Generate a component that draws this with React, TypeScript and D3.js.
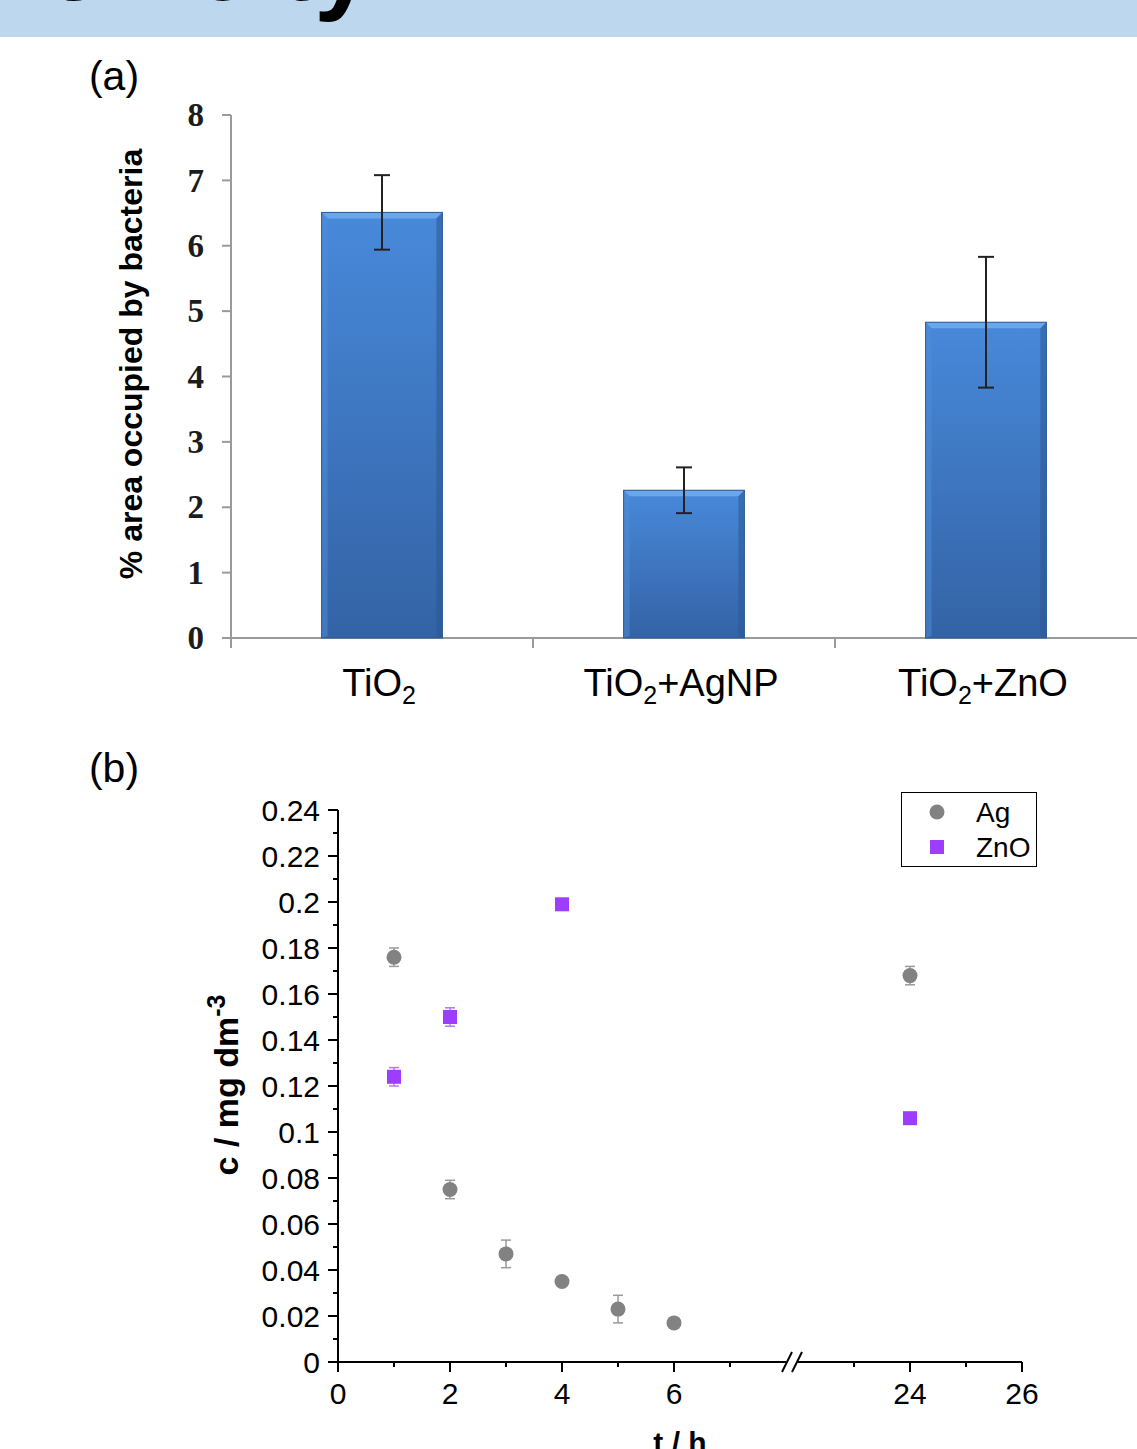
import React, { useEffect, useRef } from 'react';
import * as d3 from 'd3';

// panel (a): bar chart
const categories = ['TiO2', 'TiO2+AgNP', 'TiO2+ZnO'];
const areaValues = [6.51, 2.26, 4.83];
const areaErrors = [0.57, 0.35, 1.0];
const areaTicks = [0, 1, 2, 3, 4, 5, 6, 7, 8];

// panel (b): concentration vs time
const agTimes = [1, 2, 3, 4, 5, 6, 24];
const agValues = [0.176, 0.075, 0.047, 0.035, 0.023, 0.017, 0.168];
const agErrors = [0.004, 0.004, 0.006, 0.001, 0.006, 0.001, 0.004];
const znoTimes = [1, 2, 4, 24];
const znoValues = [0.124, 0.15, 0.199, 0.106];
const znoErrors = [0.004, 0.004, 0.001, 0.001];
const concTicks = [0, 0.02, 0.04, 0.06, 0.08, 0.1, 0.12, 0.14, 0.16, 0.18, 0.2, 0.22, 0.24];
const timeTicksLeft = [0, 2, 4, 6];
const timeTicksRight = [24, 26];
const minorLeft = [1, 3, 5, 7];
const minorRight = [23, 25];

const SANS = "'Liberation Sans', Arial, sans-serif";
const SERIF = "'Liberation Serif', 'Times New Roman', serif";

const App = () => {
  const svgRef = useRef<SVGSVGElement>(null);

  useEffect(() => {
    document.body.style.margin = '0';
    const svg = d3.select(svgRef.current);
    svg.selectAll('*').remove();

    // banner (title cut off at the top edge)
    svg.append('rect').attr('x', 0).attr('y', 0).attr('width', 1137).attr('height', 37).attr('fill', '#bdd7ee');
    svg.append('text').attr('x', 372).attr('y', 0).attr('text-anchor', 'end')
      .attr('font-family', SANS).attr('font-weight', 'bold').attr('font-size', 104)
      .attr('fill', '#000').text('Toxicity');

    const defs = svg.append('defs');
    const grad = defs.append('linearGradient').attr('id', 'barGrad').attr('x1', 0).attr('y1', 0).attr('x2', 0).attr('y2', 1);
    grad.append('stop').attr('offset', '0%').attr('stop-color', '#4889da');
    grad.append('stop').attr('offset', '100%').attr('stop-color', '#3363a5');

    // ---------- panel (a) ----------
    svg.append('text').attr('x', 114).attr('y', 90).attr('text-anchor', 'middle')
      .attr('font-family', SANS).attr('font-size', 41).text('(a)');

    const ya = d3.scaleLinear().domain([0, 8]).range([638, 115]);
    const xa = d3.scaleBand().domain(categories).range([231, 1137]).paddingInner(0).paddingOuter(0);
    const ga = svg.append('g');

    ga.append('line').attr('x1', 231).attr('x2', 231).attr('y1', ya(8)).attr('y2', 648)
      .attr('stroke', '#9a9a9a').attr('stroke-width', 2);
    ga.append('line').attr('x1', 231).attr('x2', 1137).attr('y1', ya(0)).attr('y2', ya(0))
      .attr('stroke', '#9a9a9a').attr('stroke-width', 2);
    ga.selectAll('.ytick').data(areaTicks).join('line').attr('class', 'ytick')
      .attr('x1', 222).attr('x2', 231).attr('y1', d => ya(d)).attr('y2', d => ya(d))
      .attr('stroke', '#9a9a9a').attr('stroke-width', 2);
    ga.selectAll('.ylab').data(areaTicks).join('text').attr('class', 'ylab')
      .attr('x', 204).attr('y', d => ya(d)).attr('dy', '0.34em').attr('text-anchor', 'end')
      .attr('font-family', SERIF).attr('font-weight', 'bold').attr('font-size', 33).attr('fill', '#1c1c1c')
      .text(d => d);
    const bounds = categories.map(c => xa(c)! + xa.bandwidth()).slice(0, -1);
    ga.selectAll('.xtick').data(bounds).join('line').attr('class', 'xtick')
      .attr('x1', d => d).attr('x2', d => d).attr('y1', ya(0)).attr('y2', ya(0) + 10)
      .attr('stroke', '#9a9a9a').attr('stroke-width', 2);

    ga.append('text').attr('transform', `translate(142,${(148 + 580) / 2}) rotate(-90)`)
      .attr('text-anchor', 'middle').attr('font-family', SANS).attr('font-weight', 'bold')
      .attr('font-size', 32).text('% area occupied by bacteria');

    const bw = xa.bandwidth() * 0.4;
    categories.forEach((c, i) => {
      const cx = xa(c)! + xa.bandwidth() / 2;
      const x0 = cx - bw / 2;
      const x1 = cx + bw / 2;
      const top = ya(areaValues[i]);
      const bot = ya(0);
      const g = ga.append('g');
      g.append('rect').attr('x', x0).attr('y', top).attr('width', bw).attr('height', bot - top)
        .attr('fill', 'url(#barGrad)');
      const b = 6;
      g.append('path').attr('d', `M${x0},${top}L${x1},${top}L${x1 - b},${top + b}L${x0 + b},${top + b}Z`)
        .attr('fill', '#6aa6ec');
      g.append('path').attr('d', `M${x1},${top}L${x1},${bot}L${x1 - b},${bot - 2}L${x1 - b},${top + b}Z`)
        .attr('fill', '#2c5893').attr('opacity', 0.55);
      g.append('path').attr('d', `M${x0},${top}L${x0},${bot}L${x0 + b},${bot - 2}L${x0 + b},${top + b}Z`)
        .attr('fill', '#4f8ed8').attr('opacity', 0.5);
      g.append('rect').attr('x', x0).attr('y', top).attr('width', bw).attr('height', bot - top)
        .attr('fill', 'none').attr('stroke', '#2a5a96').attr('stroke-width', 1);

      const eTop = ya(areaValues[i] + areaErrors[i]);
      const eBot = ya(areaValues[i] - areaErrors[i]);
      g.append('line').attr('x1', cx).attr('x2', cx).attr('y1', eTop).attr('y2', eBot)
        .attr('stroke', '#222').attr('stroke-width', 2);
      [eTop, eBot].forEach(yy => g.append('line').attr('x1', cx - 8).attr('x2', cx + 8)
        .attr('y1', yy).attr('y2', yy).attr('stroke', '#222').attr('stroke-width', 2));

      const rest = c.replace('TiO2', '');
      const t = ga.append('text').attr('x', cx - 3).attr('y', 696).attr('text-anchor', 'middle')
        .attr('font-family', SANS).attr('font-size', 38).attr('fill', '#000');
      t.append('tspan').text('TiO');
      t.append('tspan').attr('font-size', 25).attr('dy', 8).text('2');
      if (rest) t.append('tspan').attr('dy', -8).text(rest);
    });

    // ---------- panel (b) ----------
    svg.append('text').attr('x', 114).attr('y', 782).attr('text-anchor', 'middle')
      .attr('font-family', SANS).attr('font-size', 41).text('(b)');

    const yb = d3.scaleLinear().domain([0, 0.24]).range([1362, 810]);
    const xL = d3.scaleLinear().domain([0, 8]).range([338, 786]);
    const xR = d3.scaleLinear().domain([22, 26]).range([798, 1022]);
    const xb = (t: number) => (t <= 8 ? xL(t) : xR(t));
    const gb = svg.append('g');

    gb.append('line').attr('x1', 338).attr('x2', 338).attr('y1', yb(0.24)).attr('y2', yb(0))
      .attr('stroke', '#000').attr('stroke-width', 2);
    gb.append('line').attr('x1', 338).attr('x2', 1022).attr('y1', yb(0)).attr('y2', yb(0))
      .attr('stroke', '#000').attr('stroke-width', 2);
    const minorY = d3.range(0.01, 0.24, 0.02);
    gb.selectAll('.ybm').data(minorY).join('line').attr('class', 'ybm')
      .attr('x1', 333).attr('x2', 338).attr('y1', d => yb(d)).attr('y2', d => yb(d))
      .attr('stroke', '#000').attr('stroke-width', 2);
    gb.selectAll('.ybt').data(concTicks).join('line').attr('class', 'ybt')
      .attr('x1', 328).attr('x2', 338).attr('y1', d => yb(d)).attr('y2', d => yb(d))
      .attr('stroke', '#000').attr('stroke-width', 2);
    gb.selectAll('.ybl').data(concTicks).join('text').attr('class', 'ybl')
      .attr('x', 320).attr('y', d => yb(d)).attr('dy', '0.36em').attr('text-anchor', 'end')
      .attr('font-family', SANS).attr('font-size', 30).attr('fill', '#000')
      .text(d => String(+d.toFixed(2)));

    const majorX = [...timeTicksLeft.map(xL), ...timeTicksRight.map(xR)];
    const majorLab = [...timeTicksLeft, ...timeTicksRight];
    const minorX = [...minorLeft.map(xL), ...minorRight.map(xR)];
    gb.selectAll('.xbm').data(minorX).join('line').attr('class', 'xbm')
      .attr('x1', d => d).attr('x2', d => d).attr('y1', yb(0)).attr('y2', yb(0) + 5)
      .attr('stroke', '#000').attr('stroke-width', 2);
    gb.selectAll('.xbt').data(majorX).join('line').attr('class', 'xbt')
      .attr('x1', d => d).attr('x2', d => d).attr('y1', yb(0)).attr('y2', yb(0) + 10)
      .attr('stroke', '#000').attr('stroke-width', 2);
    gb.selectAll('.xbl').data(majorLab).join('text').attr('class', 'xbl')
      .attr('x', (d, i) => majorX[i]).attr('y', 1404).attr('text-anchor', 'middle')
      .attr('font-family', SANS).attr('font-size', 30).attr('fill', '#000').text(d => d);

    // axis break
    const bx = 792;
    gb.append('rect').attr('x', bx - 6).attr('y', yb(0) - 3).attr('width', 12).attr('height', 6).attr('fill', '#fff');
    [-5, 5].forEach(o => gb.append('line')
      .attr('x1', bx + o - 5).attr('x2', bx + o + 5).attr('y1', yb(0) + 10).attr('y2', yb(0) - 10)
      .attr('stroke', '#000').attr('stroke-width', 2));

    gb.append('text').attr('x', 680).attr('y', 1453).attr('text-anchor', 'middle')
      .attr('font-family', SANS).attr('font-weight', 'bold').attr('font-size', 30).text('t / h');

    const yt = gb.append('text').attr('transform', `translate(238,1085) rotate(-90)`)
      .attr('text-anchor', 'middle').attr('font-family', SANS).attr('font-weight', 'bold').attr('font-size', 34);
    yt.append('tspan').text('c / mg dm');
    yt.append('tspan').attr('font-size', 25).attr('dy', -13).text('-3');

    const errBar = (x: number, v: number, e: number, col: string) => {
      const y1 = yb(v + e);
      const y2 = yb(v - e);
      gb.append('line').attr('x1', x).attr('x2', x).attr('y1', y1).attr('y2', y2).attr('stroke', col).attr('stroke-width', 1.5);
      [y1, y2].forEach(yy => gb.append('line').attr('x1', x - 5).attr('x2', x + 5).attr('y1', yy).attr('y2', yy)
        .attr('stroke', col).attr('stroke-width', 1.5));
    };

    agTimes.forEach((t, i) => errBar(xb(t), agValues[i], agErrors[i], '#9a9a9a'));
    znoTimes.forEach((t, i) => errBar(xb(t), znoValues[i], znoErrors[i], '#b578ff'));

    gb.selectAll('.ag').data(agTimes).join('circle').attr('class', 'ag')
      .attr('cx', d => xb(d)).attr('cy', (d, i) => yb(agValues[i])).attr('r', 7.5).attr('fill', '#828282');
    gb.selectAll('.zno').data(znoTimes).join('rect').attr('class', 'zno')
      .attr('x', d => xb(d) - 7).attr('y', (d, i) => yb(znoValues[i]) - 7)
      .attr('width', 14).attr('height', 14).attr('fill', '#9d3dff');

    // legend
    const lg = gb.append('g');
    lg.append('rect').attr('x', 901.5).attr('y', 792.5).attr('width', 135).attr('height', 74)
      .attr('fill', '#fff').attr('stroke', '#000').attr('stroke-width', 1);
    lg.append('circle').attr('cx', 937).attr('cy', 812).attr('r', 7.5).attr('fill', '#828282');
    lg.append('rect').attr('x', 930).attr('y', 840).attr('width', 14).attr('height', 14).attr('fill', '#9d3dff');
    lg.append('text').attr('x', 976).attr('y', 822).attr('font-family', SANS).attr('font-size', 28).text('Ag');
    lg.append('text').attr('x', 976).attr('y', 857).attr('font-family', SANS).attr('font-size', 28).text('ZnO');
  }, []);

  return (
    <div>
      <svg ref={svgRef} width={1137} height={1449} style={{ display: 'block', position: 'absolute', left: 0, top: 0, background: '#fff' }} />
    </div>
  );
};

export default App;
